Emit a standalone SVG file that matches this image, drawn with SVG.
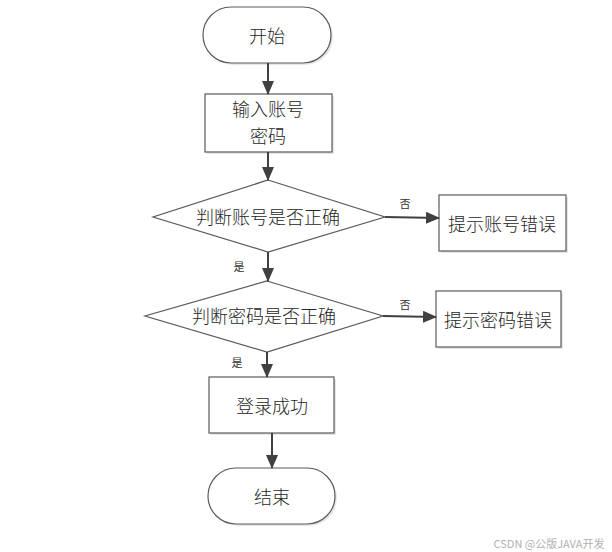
<svg xmlns="http://www.w3.org/2000/svg" width="612" height="552" viewBox="0 0 612 552">
<style>
.shape{fill:#fff;stroke:#5a5a5a;stroke-width:1.2}
.shadow{fill:#e6e6e6;stroke:none}
.t{font-family:"Noto Sans CJK SC","Liberation Sans",sans-serif;font-size:18px;font-weight:300;fill:#262626;text-anchor:middle;dominant-baseline:central}
.s{font-family:"Noto Sans CJK SC","Liberation Serif",serif;font-size:11px;fill:#333;text-anchor:middle;dominant-baseline:central}
.c{stroke:#404040;stroke-width:2;fill:none;marker-end:url(#ah)}
</style>
<defs>
<marker id="ah" markerWidth="14" markerHeight="12" refX="13" refY="6" orient="auto" markerUnits="userSpaceOnUse">
<path d="M0,0 L14,6 L0,12 Z" fill="#404040"/>
</marker>
</defs>
<rect width="612" height="552" fill="#fff"/>
<g id="start">
<rect class="shadow" x="205" y="9" width="128" height="56" rx="28"/>
<rect class="shape" x="203" y="7" width="128" height="56" rx="28"/>
<text class="t" x="267" y="35">开始</text>
</g>
<g id="input">
<rect class="shadow" x="207" y="96" width="127" height="58"/>
<rect class="shape" x="205" y="94" width="127" height="58"/>
<text class="t" x="268" y="108">输入账号</text>
<text class="t" x="268" y="135">密码</text>
</g>
<g id="check-account">
<polygon class="shape" points="268,180 385,217 268,252 153,217"/>
<text class="t" x="268" y="216">判断账号是否正确</text>
</g>
<g id="account-error">
<rect class="shadow" x="441" y="197" width="127" height="56"/>
<rect class="shape" x="439" y="195" width="127" height="56"/>
<text class="t" x="502" y="223">提示账号错误</text>
</g>
<g id="check-password">
<polygon class="shape" points="267,281 383,316 267,352 145,316"/>
<text class="t" x="264" y="315">判断密码是否正确</text>
</g>
<g id="password-error">
<rect class="shadow" x="438" y="293" width="125" height="56"/>
<rect class="shape" x="436" y="291" width="125" height="56"/>
<text class="t" x="498" y="319">提示密码错误</text>
</g>
<g id="success">
<rect class="shadow" x="211" y="379" width="125" height="56"/>
<rect class="shape" x="209" y="377" width="125" height="56"/>
<text class="t" x="272" y="405">登录成功</text>
</g>
<g id="end">
<rect class="shadow" x="210" y="470" width="127" height="56" rx="28"/>
<rect class="shape" x="208" y="468" width="127" height="56" rx="28"/>
<text class="t" x="272" y="496">结束</text>
</g>
<g id="connectors">
<line class="c" x1="268" y1="63" x2="268" y2="94"/>
<line class="c" x1="268" y1="152" x2="268" y2="180"/>
<line class="c" x1="268" y1="252" x2="268" y2="281"/>
<line class="c" x1="385" y1="217" x2="439" y2="218"/>
<line class="c" x1="383" y1="316" x2="436" y2="317"/>
<line class="c" x1="267" y1="352" x2="267" y2="377"/>
<line class="c" x1="272" y1="433" x2="272" y2="468"/>
<text class="s" x="405" y="203">否</text>
<text class="s" x="405" y="304">否</text>
<text class="s" x="239" y="266">是</text>
<text class="s" x="237" y="362">是</text>
</g>
<text x="549" y="543" font-family="Noto Sans CJK SC,Liberation Sans,sans-serif" font-size="11" fill="#b0b0b0" text-anchor="middle" dominant-baseline="central">CSDN @公版JAVA开发</text>
</svg>
